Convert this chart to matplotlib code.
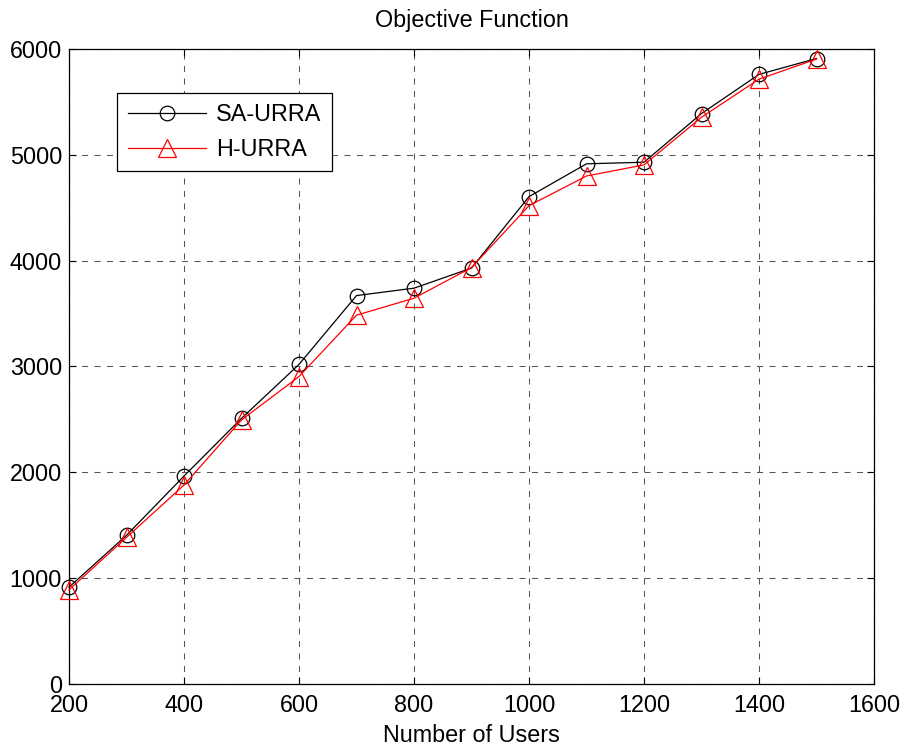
import matplotlib
matplotlib.use("Agg")
import matplotlib.pyplot as plt

plt.rcParams['font.family'] = ['Liberation Sans', 'DejaVu Sans']

users = [200, 300, 400, 500, 600, 700, 800, 900, 1000, 1100, 1200, 1300, 1400, 1500]
sa_urra = [915, 1405, 1965, 2510, 3020, 3670, 3740, 3930, 4605, 4915, 4930, 5390, 5760, 5910]
h_urra = [890, 1385, 1880, 2495, 2905, 3485, 3645, 3935, 4520, 4800, 4905, 5355, 5715, 5905]

fig = plt.figure(figsize=(9.06, 7.49), dpi=100)
ax = fig.add_axes([0.0762, 0.0868, 0.8885, 0.8478])

ax.plot(users, sa_urra, color='black', lw=0.9, marker='o', ms=10.5,
        mfc='none', mec='black', mew=0.9, label='SA-URRA', clip_on=False, zorder=3)
ax.plot(users, h_urra, color='red', lw=0.9, marker='^', ms=13,
        mfc='none', mec='red', mew=0.9, label='H-URRA', clip_on=False, zorder=3)

ax.set_xlim(200, 1600)
ax.set_ylim(0, 6000)
ax.set_xticks(range(200, 1601, 200))
ax.set_yticks(range(0, 6001, 1000))
ax.grid(True, color='#555555', linestyle=(0, (5.8, 6.2)), lw=0.75)
ax.tick_params(direction='in', top=True, right=True, labelsize=16.8,
               length=5, pad=5)
ax.tick_params(axis='x', pad=7)
for s in ax.spines.values():
    s.set_linewidth(0.9)

ax.set_title('Objective Function', fontsize=16.8, pad=16)
ax.set_xlabel('Number of Users', fontsize=16.8, labelpad=5)

leg = ax.legend(loc='upper left', bbox_to_anchor=(0.0596, 0.9307),
                borderaxespad=0, fontsize=16.8,
                fancybox=False, edgecolor='black', framealpha=1,
                handlelength=3.35, handletextpad=0.45, borderpad=0.45,
                labelspacing=0.48)
leg.get_frame().set_linewidth(0.9)

fig.savefig('out.png', dpi=100)
